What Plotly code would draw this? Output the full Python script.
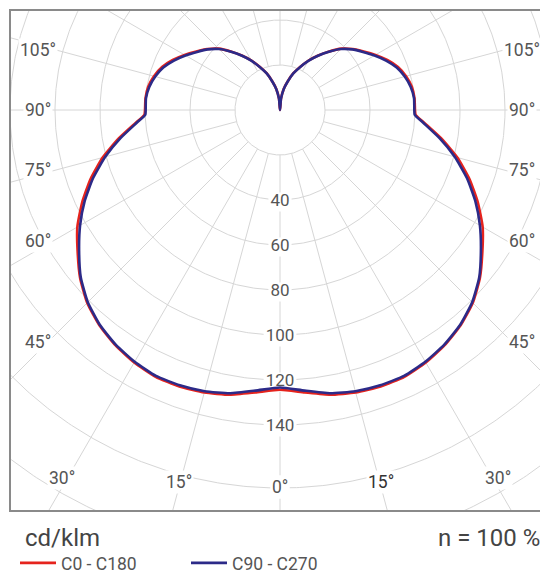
import numpy as np
import plotly.graph_objects as go

# ---------------- data (cd/klm) ----------------
gamma = [0, 5, 10, 15, 20, 25, 30, 35, 40, 45, 50, 55, 60, 65, 70, 75, 80, 85, 88,
         90, 95, 100, 105, 110, 115, 120, 125, 130, 135, 140, 145, 150, 155, 160,
         165, 170, 175, 180]
c0_c180 = [124.3, 126.0, 128.5, 130.0, 130.8, 130.8, 129.6, 127.6, 124.9, 121.2,
           116.0, 109.8, 104.0, 97.0, 89.6, 81.6, 72.8, 64.3, 60.3,
           60.0, 60.0, 59.5, 58.0, 55.8, 52.6, 49.0, 45.4, 42.2, 38.6, 34.0,
           29.6, 25.4, 21.1, 17.4, 13.1, 9.5, 5.0, 0.0]
c90_c270 = [123.3, 125.2, 127.8, 129.4, 130.2, 130.4, 129.2, 127.3, 124.6, 120.8,
            115.6, 109.0, 102.6, 95.8, 88.4, 80.4, 72.0, 63.8, 59.9,
            59.7, 59.8, 59.0, 57.4, 55.2, 52.0, 48.5, 45.0, 41.9, 38.3, 33.8,
            29.4, 25.2, 21.0, 17.3, 13.0, 9.4, 5.0, 0.0]
series_names = ["C0 - C180", "C90 - C270"]
series_values = [c0_c180, c90_c270]
series_colors = ["#e5231d", "#2c2a88"]

ring_values = [20, 40, 60, 80, 100, 120, 140, 168, 196]
radial_labels = [40, 60, 80, 100, 120, 140]
angle_labels = [0, 15, 30, 45, 60, 75, 90, 105]
unit_text = "cd/klm"
eff_text = "n = 100 %"

# ---------------- geometry (pixels, page body has an 8px margin) ----------------
OFF = 8
W, H = 548 - OFF, 574 - OFF
ML, MR, MT, MB = 11 - OFF, 1, 11 - OFF, 64
CX, CY = 280 - OFF, 110 - OFF      # pole position in figure px
PX = 2.25                          # px per cd/klm
plot_w = W - ML - MR
plot_h = H - MT - MB

xr = [-(CX - ML) / PX, (W - MR - CX) / PX]
yr = [-(H - MB - CY) / PX, (CY - MT) / PX]

GRID = "#d6d6d6"
TXT = "#555555"
FONT = "Roboto"

def px_x(p):  # page px -> paper x
    return (p - OFF - ML) / plot_w

def px_y(p):  # page px -> paper y
    return (H - MB - (p - OFF)) / plot_h

fig = go.Figure()

# rings
th = np.linspace(0, 2 * np.pi, 721)
gx, gy = [], []
for r in ring_values:
    gx += list(r * np.cos(th)) + [None]
    gy += list(r * np.sin(th)) + [None]
# spokes every 15 degrees
for a in range(0, 360, 15):
    ar = np.radians(a)
    gx += [ring_values[0] * np.cos(ar), 300 * np.cos(ar), None]
    gy += [ring_values[0] * np.sin(ar), 300 * np.sin(ar), None]
fig.add_trace(go.Scatter(x=gx, y=gy, mode="lines", line=dict(color=GRID, width=1),
                         hoverinfo="skip", showlegend=False))

# white boxes behind the radial value labels (under the curves)
lab_y = [-v - 2 / PX for v in radial_labels]
bx, by = [], []
for v, yy in zip(radial_labels, lab_y):
    hw = (len(str(v)) * 9.6 + 4) / 2 / PX
    hh = 9.5 / PX
    bx += [-hw, hw, hw, -hw, -hw, None]
    by += [yy - hh, yy - hh, yy + hh, yy + hh, yy - hh, None]
fig.add_trace(go.Scatter(x=bx, y=by, mode="lines", fill="toself", fillcolor="white",
                         line=dict(width=0, color="white"), hoverinfo="skip",
                         showlegend=False))
fig.add_trace(go.Scatter(x=[0] * len(radial_labels), y=lab_y, mode="text",
                         text=[str(v) for v in radial_labels],
                         textfont=dict(family=FONT, size=17, color=TXT),
                         hoverinfo="skip", showlegend=False))

# photometric curves (left half: gamma 0->180, right half: 180->0)
for name, vals, col in zip(series_names, series_values, series_colors):
    g = np.radians(np.array(gamma, dtype=float))
    r = np.array(vals, dtype=float)
    xl, yl = -r * np.sin(g), -r * np.cos(g)
    xrt, yrt = (r * np.sin(g))[::-1], (-r * np.cos(g))[::-1]
    x = np.concatenate([xl, xrt[1:]])
    y = np.concatenate([yl, yrt[1:]])
    fig.add_trace(go.Scatter(x=x, y=y, mode="lines", name=name,
                             line=dict(color=col, width=2.6, shape="spline", smoothing=0.5)))

ann = []
# angle labels, placed where each spoke meets an inset frame
XIN = 242 / PX
YIN = 377 / PX
for a in angle_labels:
    ar = np.radians(a)
    s, c = np.sin(ar), np.cos(ar)
    cands = []
    if s > 1e-9:
        cands.append(XIN / s)
    if c > 1e-9:
        cands.append(YIN / c)
    t = min(cands)
    for side in (-1, 1):
        col = "#333333" if (a == 15 and side == 1) else TXT
        ann.append(dict(x=side * t * s, y=-t * c, xref="x", yref="y",
                        text=f"{a}°", showarrow=False,
                        font=dict(family=FONT, size=17.5, color=col),
                        bgcolor="white", borderpad=1,
                        yshift=10 * np.sin(2 * ar)))

# footer texts
ann.append(dict(x=px_x(23), y=px_y(538), xref="paper", yref="paper",
                text=unit_text, showarrow=False, xanchor="left", yanchor="middle",
                font=dict(family=FONT, size=24, color="#444444")))
ann.append(dict(x=px_x(542), y=px_y(538), xref="paper", yref="paper",
                text=eff_text, showarrow=False, xanchor="right", yanchor="middle",
                font=dict(family=FONT, size=24, color="#444444")))

axis_common = dict(showgrid=False, zeroline=False, showticklabels=False, ticks="",
                   showline=True, mirror=True, linecolor="#8a8a8a", linewidth=1.5,
                   fixedrange=True)

fig.update_layout(
    width=W, height=H,
    margin=dict(l=ML, r=MR, t=MT, b=MB, pad=0, autoexpand=False),
    paper_bgcolor="white", plot_bgcolor="white",
    xaxis=dict(range=xr, **axis_common),
    yaxis=dict(range=yr, **axis_common),
    annotations=ann,
    showlegend=True,
    legend=dict(orientation="h", x=px_x(15), xanchor="left",
                y=px_y(563), yanchor="middle",
                font=dict(family=FONT, size=17.5, color=TXT),
                itemwidth=36,
                entrywidth=120, entrywidthmode="pixels",
                bgcolor="rgba(0,0,0,0)", borderwidth=0),
    font=dict(family=FONT),
)

fig.write_html("out.html")
